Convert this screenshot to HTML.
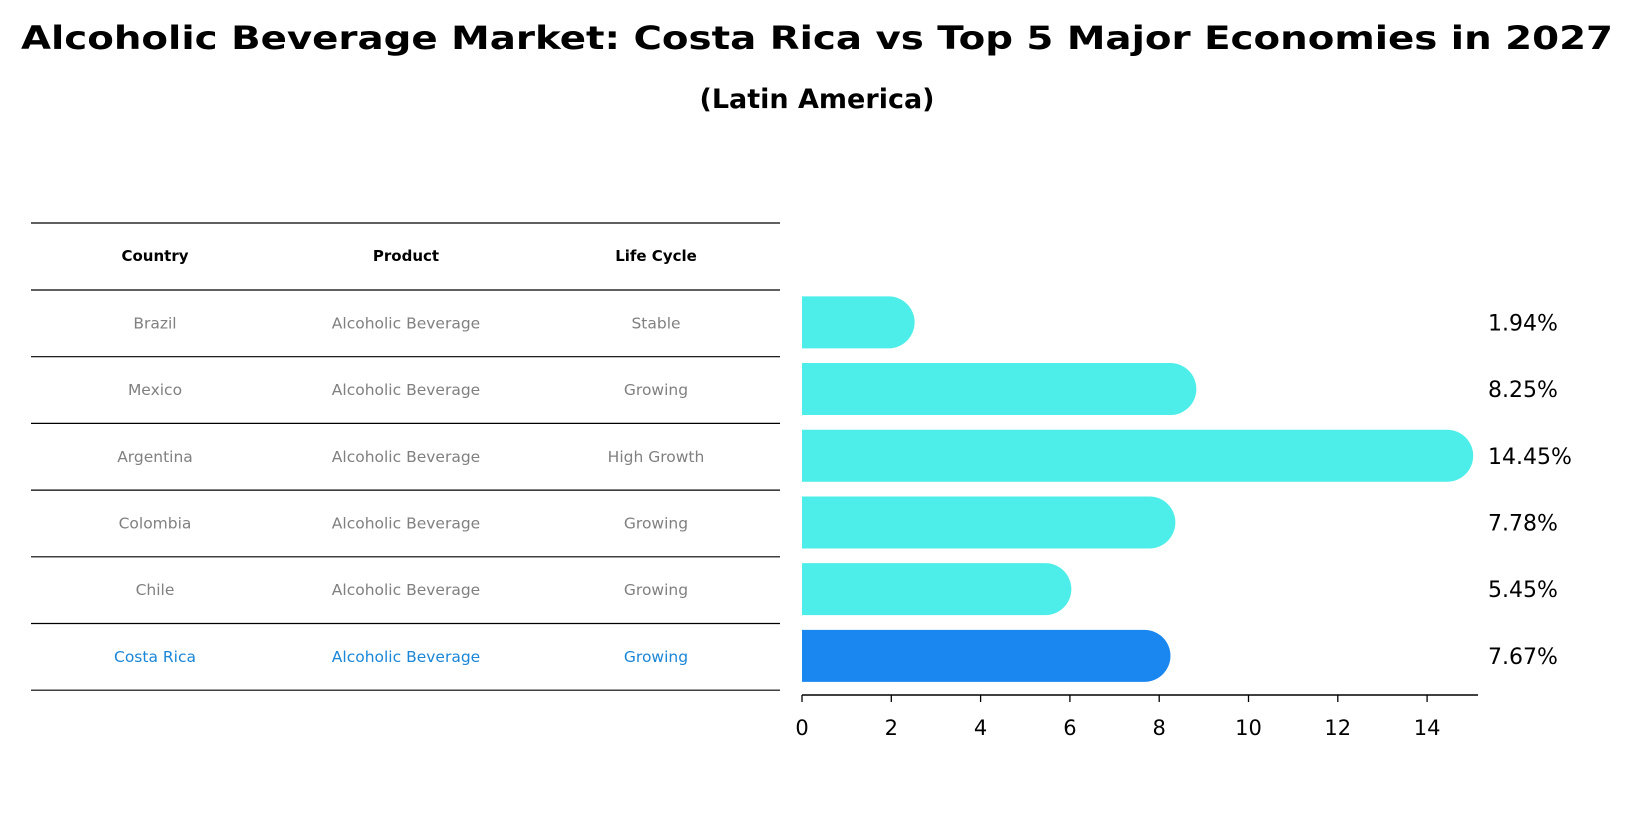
<!DOCTYPE html>
<html><head><meta charset="utf-8"><style>
html,body{margin:0;padding:0;background:#fff;}
svg{display:block;font-family:"DejaVu Sans","Liberation Sans",sans-serif;}
</style></head><body>
<svg id="chart" width="1635" height="823" viewBox="0 0 1635 823">
<text x="817" y="49" text-anchor="middle" font-size="32" font-weight="bold" textLength="1592" lengthAdjust="spacingAndGlyphs">Alcoholic Beverage Market: Costa Rica vs Top 5 Major Economies in 2027</text>
<text x="817" y="108" text-anchor="middle" font-size="27" font-weight="bold">(Latin America)</text>
<g id="table"></g>
<g id="bars"></g>
<g id="xaxis"></g>
</svg>
<script>
const countries = ["Brazil","Mexico","Argentina","Colombia","Chile","Costa Rica"];
const products = ["Alcoholic Beverage","Alcoholic Beverage","Alcoholic Beverage","Alcoholic Beverage","Alcoholic Beverage","Alcoholic Beverage"];
const lifeCycles = ["Stable","Growing","High Growth","Growing","Growing","Growing"];
const values = [1.94,8.25,14.45,7.78,5.45,7.67];
const valueLabels = ["1.94%","8.25%","14.45%","7.78%","5.45%","7.67%"];
const xTicks = [0,2,4,6,8,10,12,14];

const NS = "http://www.w3.org/2000/svg";
function mk(tag, attrs, parent){const e=document.createElementNS(NS,tag);for(const k in attrs)e.setAttribute(k,attrs[k]);parent.appendChild(e);return e;}
const x0 = 802, unit = 44.65;
function xs(v){return x0 + v*unit;}
const rowTop = 290, rowH = 66.7;
function yc(i){return rowTop + rowH*i + rowH/2 - 1;}

// table
const table = document.getElementById('table');
const colX = [155,406,656];
const lineYs = [223,290];
for(let i=1;i<=countries.length;i++) lineYs.push(290 + rowH*i);
lineYs.forEach((y,i)=>{
  const l = mk('line',{x1:31,x2:780,y1:y,y2:y,stroke:'#000','stroke-width':1.2},table);
  
  
});
["Country","Product","Life Cycle"].forEach((h,j)=>{
  const t = mk('text',{x:colX[j],y:261,'text-anchor':'middle','font-size':15,'font-weight':'bold'},table);
  t.textContent = h;
  
  
});
countries.forEach((c,i)=>{
  const col = c==="Costa Rica" ? "#1a86d8" : "#808080";
  [c, products[i], lifeCycles[i]].forEach((v,j)=>{
    const t = mk('text',{x:colX[j],y:yc(i)+6,'text-anchor':'middle','font-size':15.5,fill:col},table);
    t.textContent = v;
    
    
  });
});

// bars
const bars = document.getElementById('bars');
const bh = 52, r = bh/2;
values.forEach((v,i)=>{
  const hl = countries[i]==="Costa Rica";
  const y = yc(i) - bh/2;
  const xe = xs(v);
  const p = mk('path',{d:`M${x0},${y} H${xe} A${r},${r} 0 0 1 ${xe},${y+bh} H${x0} Z`,fill:hl?'#1a86f0':'#4deeea'},bars);
  
  
  const t = mk('text',{x:1488,y:yc(i)+8,'font-size':22},bars);
  t.textContent = valueLabels[i];
  
  
});

// x axis
const ax = document.getElementById('xaxis');
const al = mk('line',{x1:x0,x2:1478,y1:695,y2:695,stroke:'#000','stroke-width':1.5},ax);


xTicks.forEach(v=>{
  const tk = mk('line',{x1:xs(v),x2:xs(v),y1:695,y2:702,stroke:'#000','stroke-width':1.3},ax);
  
  
  const t = mk('text',{x:xs(v),y:735,'text-anchor':'middle','font-size':21},ax);
  t.textContent = v;
  
  
});
</script>
</body></html>
